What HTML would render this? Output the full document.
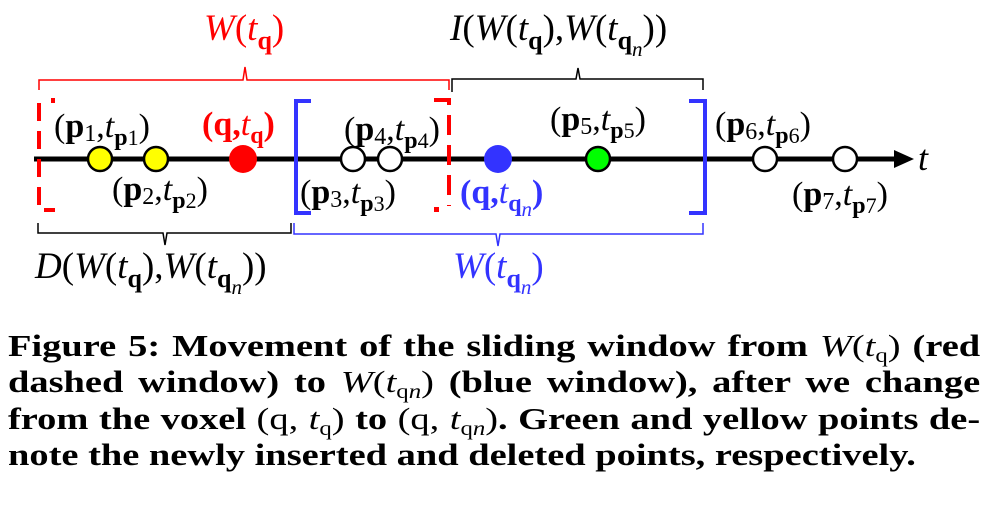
<!DOCTYPE html>
<html><head><meta charset="utf-8"><style>
body{margin:0;background:#fff;width:988px;height:511px;overflow:hidden;position:relative}
svg{position:absolute;left:0;top:0}
.cap{position:absolute;left:8px;width:784px;font:bold 31px "Liberation Serif",serif;color:#000;white-space:nowrap;line-height:36px;transform:scaleX(1.24);transform-origin:0 0}
.j{text-align:justify;text-align-last:justify}
.m{font-weight:normal;font-style:italic}
.n{font-weight:normal}
sub{font-size:20px;line-height:0;vertical-align:-6px}
</style></head><body>
<svg width="988" height="320" viewBox="0 0 988 320" font-family="Liberation Serif, serif">
<path d="M39 90 V80 H243 L245 67 L247 80 H449 V90" fill="none" stroke="#f00" stroke-width="1.5"/>
<path d="M452 92 V79 H576 L578 68 L580 79 H703 V90" fill="none" stroke="#000" stroke-width="1.5"/>
<path d="M38 223 V233 H163 L165 245 L167 233 H291 V223" fill="none" stroke="#000" stroke-width="1.5"/>
<path d="M294 223 V234 H496 L498 246 L500 234 H703 V223" fill="none" stroke="#33f" stroke-width="1.5"/>
<line x1="34" y1="159" x2="898" y2="159" stroke="#000" stroke-width="5"/>
<polygon points="894,150 914,159 894,168" fill="#000"/>
<text x="918" y="170" font-size="36" font-style="italic">t</text>
<path d="M39 103 V210 H55 M53 98 V103" fill="none" stroke="#f00" stroke-width="4" stroke-dasharray="18 10"/>
<path d="M434 100 H449 V206" fill="none" stroke="#f00" stroke-width="4" stroke-dasharray="20 10"/>
<rect x="434" y="207" width="5" height="5" fill="#f00"/>
<path d="M311 101 H296 V213 H311" fill="none" stroke="#33f" stroke-width="4"/>
<path d="M689 101 H705 V213 H689" fill="none" stroke="#33f" stroke-width="4"/>
<g stroke="#000" stroke-width="2.5">
<circle cx="100" cy="159" r="12" fill="#ff0"/>
<circle cx="156" cy="159" r="12" fill="#ff0"/>
<circle cx="353" cy="159" r="12" fill="#fff"/>
<circle cx="390" cy="159" r="12" fill="#fff"/>
<circle cx="598" cy="159" r="12" fill="#0f0"/>
<circle cx="765" cy="159" r="12" fill="#fff"/>
<circle cx="845" cy="159" r="12" fill="#fff"/>
</g>
<circle cx="243" cy="159" r="14" fill="#f00"/>
<circle cx="498" cy="159" r="14" fill="#33f"/>
<g font-size="37">
<text x="204" y="40" fill="#f00"><tspan font-style="italic">W</tspan>(<tspan font-style="italic">t</tspan><tspan font-size="26" font-weight="bold" dy="9">q</tspan><tspan dy="-9">)</tspan></text>
<text x="450" y="40"><tspan font-style="italic">I</tspan>(<tspan font-style="italic">W</tspan>(<tspan font-style="italic">t</tspan><tspan font-size="26" font-weight="bold" dy="9">q</tspan><tspan dy="-9">),</tspan><tspan font-style="italic">W</tspan>(<tspan font-style="italic">t</tspan><tspan font-size="26" font-weight="bold" dy="9">q</tspan><tspan font-size="21" font-style="italic" dy="7">n</tspan><tspan dy="-16">))</tspan></text>
<text x="35" y="278"><tspan font-style="italic">D</tspan>(<tspan font-style="italic">W</tspan>(<tspan font-style="italic">t</tspan><tspan font-size="26" font-weight="bold" dy="9">q</tspan><tspan dy="-9">),</tspan><tspan font-style="italic">W</tspan>(<tspan font-style="italic">t</tspan><tspan font-size="26" font-weight="bold" dy="9">q</tspan><tspan font-size="21" font-style="italic" dy="7">n</tspan><tspan dy="-16">))</tspan></text>
<text x="453" y="278" fill="#33f"><tspan font-style="italic">W</tspan>(<tspan font-style="italic">t</tspan><tspan font-size="26" font-weight="bold" dy="9">q</tspan><tspan font-size="21" font-style="italic" dy="7">n</tspan><tspan dy="-16">)</tspan></text>
</g>
<g font-size="34">
<text x="54" y="137">(<tspan font-weight="bold">p</tspan><tspan font-size="24" dy="4">1</tspan><tspan dy="-4">,</tspan><tspan font-style="italic">t</tspan><tspan font-size="24" font-weight="bold" dy="8">p</tspan><tspan font-size="22">1</tspan><tspan dy="-8">)</tspan></text>
<text x="202" y="135" fill="#f00" font-weight="bold">(q,<tspan font-style="italic" font-weight="normal">t</tspan><tspan font-size="24" dy="8">q</tspan><tspan dy="-8">)</tspan></text>
<text x="344" y="140">(<tspan font-weight="bold">p</tspan><tspan font-size="24" dy="4">4</tspan><tspan dy="-4">,</tspan><tspan font-style="italic">t</tspan><tspan font-size="24" font-weight="bold" dy="8">p</tspan><tspan font-size="22">4</tspan><tspan dy="-8">)</tspan></text>
<text x="550" y="130">(<tspan font-weight="bold">p</tspan><tspan font-size="24" dy="4">5</tspan><tspan dy="-4">,</tspan><tspan font-style="italic">t</tspan><tspan font-size="24" font-weight="bold" dy="8">p</tspan><tspan font-size="22">5</tspan><tspan dy="-8">)</tspan></text>
<text x="715" y="135">(<tspan font-weight="bold">p</tspan><tspan font-size="24" dy="4">6</tspan><tspan dy="-4">,</tspan><tspan font-style="italic">t</tspan><tspan font-size="24" font-weight="bold" dy="8">p</tspan><tspan font-size="22">6</tspan><tspan dy="-8">)</tspan></text>
<text x="112" y="200">(<tspan font-weight="bold">p</tspan><tspan font-size="24" dy="4">2</tspan><tspan dy="-4">,</tspan><tspan font-style="italic">t</tspan><tspan font-size="24" font-weight="bold" dy="8">p</tspan><tspan font-size="22">2</tspan><tspan dy="-8">)</tspan></text>
<text x="300" y="203">(<tspan font-weight="bold">p</tspan><tspan font-size="24" dy="4">3</tspan><tspan dy="-4">,</tspan><tspan font-style="italic">t</tspan><tspan font-size="24" font-weight="bold" dy="8">p</tspan><tspan font-size="22">3</tspan><tspan dy="-8">)</tspan></text>
<text x="460" y="203" fill="#33f" font-weight="bold">(q,<tspan font-style="italic" font-weight="normal">t</tspan><tspan font-size="24" dy="8">q</tspan><tspan font-size="21" font-style="italic" font-weight="normal" dy="5">n</tspan><tspan dy="-13">)</tspan></text>
<text x="792" y="205">(<tspan font-weight="bold">p</tspan><tspan font-size="24" dy="4">7</tspan><tspan dy="-4">,</tspan><tspan font-style="italic">t</tspan><tspan font-size="24" font-weight="bold" dy="8">p</tspan><tspan font-size="22">7</tspan><tspan dy="-8">)</tspan></text>
</g>
</svg>
<div class="cap j" style="top:328px">Figure 5: Movement of the sliding window from <span class="m">W</span><span class="n">(<i>t</i><sub>q</sub>)</span> (red</div>
<div class="cap j" style="top:364px">dashed window) to <span class="m">W</span><span class="n">(<i>t</i><sub>q<i>n</i></sub>)</span> (blue window), after we change</div>
<div class="cap j" style="top:401px">from the voxel <span class="n">(q, <i>t</i><sub>q</sub>)</span> to <span class="n">(q, <i>t</i><sub>q<i>n</i></sub>)</span>. Green and yellow points de-</div>
<div class="cap" style="top:437px">note the newly inserted and deleted points, respectively.</div>
</body></html>
